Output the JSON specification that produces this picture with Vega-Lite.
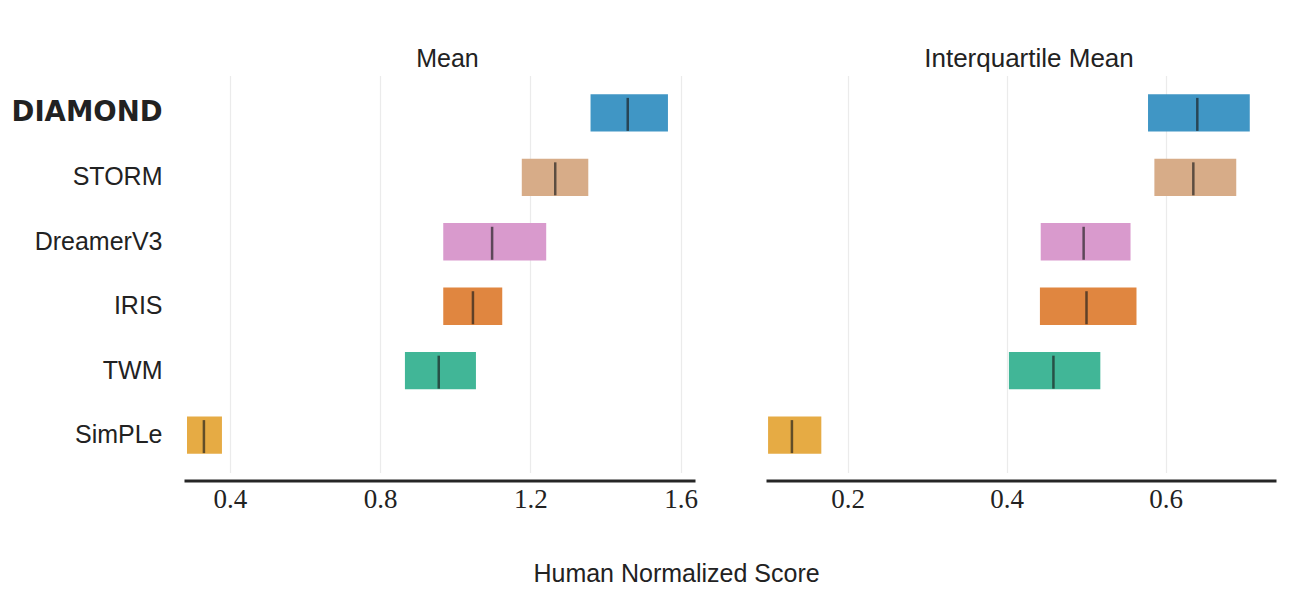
{
  "$schema": "https://vega.github.io/schema/vega-lite/v6.json",
  "background": "white",
  "padding": {"left": 11, "top": 45.5, "right": 20, "bottom": 5},
  "autosize": {"type": "pad"},
  "datasets": {
    "scores": [
      {"algo": "DIAMOND", "metric": "Mean", "lo": 1.360, "hi": 1.566, "med": 1.459},
      {"algo": "STORM", "metric": "Mean", "lo": 1.177, "hi": 1.354, "med": 1.266},
      {"algo": "DreamerV3", "metric": "Mean", "lo": 0.968, "hi": 1.242, "med": 1.098},
      {"algo": "IRIS", "metric": "Mean", "lo": 0.968, "hi": 1.125, "med": 1.047},
      {"algo": "TWM", "metric": "Mean", "lo": 0.866, "hi": 1.055, "med": 0.956},
      {"algo": "SimPLe", "metric": "Mean", "lo": 0.286, "hi": 0.379, "med": 0.331},
      {"algo": "DIAMOND", "metric": "IQM", "lo": 0.578, "hi": 0.706, "med": 0.640},
      {"algo": "STORM", "metric": "IQM", "lo": 0.586, "hi": 0.689, "med": 0.635},
      {"algo": "DreamerV3", "metric": "IQM", "lo": 0.443, "hi": 0.556, "med": 0.497},
      {"algo": "IRIS", "metric": "IQM", "lo": 0.442, "hi": 0.5635, "med": 0.5006},
      {"algo": "TWM", "metric": "IQM", "lo": 0.403, "hi": 0.518, "med": 0.459},
      {"algo": "SimPLe", "metric": "IQM", "lo": 0.100, "hi": 0.167, "med": 0.130}
    ]
  },
  "data": {"name": "scores"},
  "title": {
    "text": "Human Normalized Score",
    "orient": "bottom",
    "anchor": "middle",
    "font": "Liberation Sans",
    "fontSize": 25,
    "fontWeight": "normal",
    "color": "#222222",
    "offset": 49.5,
    "dx": 33
  },
  "spacing": 71,
  "bounds": "flush",
  "hconcat": [
    {
      "width": 511,
      "height": 397,
      "title": {"text": "Mean", "dx": 8},
      "transform": [{"filter": "datum.metric == 'Mean'"}],
      "encoding": {
        "y": {
          "field": "algo",
          "type": "nominal",
          "sort": ["DIAMOND", "STORM", "DreamerV3", "IRIS", "TWM", "SimPLe"],
          "scale": {"paddingInner": 0.42, "paddingOuter": 0.29},
          "axis": {
            "title": null,
            "domain": false,
            "ticks": false,
            "grid": false,
            "labelPadding": 22,
            "labelFont": {"expr": "datum.value == 'DIAMOND' ? 'DejaVu Sans' : 'Liberation Sans'"},
            "labelFontWeight": {"expr": "datum.value == 'DIAMOND' ? 'bold' : 'normal'"},
            "labelFontSize": {"expr": "datum.value == 'DIAMOND' ? 27.5 : 25"},
            "labelColor": "#222222"
          }
        }
      },
      "layer": [
        {
          "mark": {"type": "bar", "opacity": 1},
          "encoding": {
            "x": {
              "field": "lo",
              "type": "quantitative",
              "scale": {"domain": [0.278, 1.638], "nice": false, "zero": false},
              "axis": {
                "title": null,
                "values": [0.4, 0.8, 1.2, 1.6],
                "format": ".1f",
                "grid": true,
                "gridColor": "#ebebeb",
                "gridWidth": 1.2,
                "ticks": false,
                "domain": true,
                "domainColor": "#262626",
                "domainWidth": 2.8,
                "offset": 8,
                "labelFont": "Liberation Serif",
                "labelFontSize": 27,
                "labelColor": "#222222",
                "labelPadding": 6
              }
            },
            "x2": {"field": "hi"},
            "color": {
              "field": "algo",
              "type": "nominal",
              "scale": {
                "domain": ["DIAMOND", "STORM", "DreamerV3", "IRIS", "TWM", "SimPLe"],
                "range": ["#4096c5", "#d7ac88", "#d99acd", "#e08640", "#41b697", "#e6ab44"]
              },
              "legend": null
            }
          }
        },
        {
          "mark": {"type": "tick", "thickness": 2.5, "size": 33, "color": "#1a1a1a", "opacity": 0.65, "yOffset": 1.5},
          "encoding": {
            "x": {"field": "med", "type": "quantitative"}
          }
        }
      ]
    },
    {
      "width": 510,
      "height": 397,
      "title": {"text": "Interquartile Mean", "dx": 8, "fontSize": 26},
      "transform": [{"filter": "datum.metric == 'IQM'"}],
      "encoding": {
        "y": {
          "field": "algo",
          "type": "nominal",
          "sort": ["DIAMOND", "STORM", "DreamerV3", "IRIS", "TWM", "SimPLe"],
          "scale": {"paddingInner": 0.42, "paddingOuter": 0.29},
          "axis": null
        }
      },
      "layer": [
        {
          "mark": {"type": "bar", "opacity": 1},
          "encoding": {
            "x": {
              "field": "lo",
              "type": "quantitative",
              "scale": {"domain": [0.0974, 0.739], "nice": false, "zero": false},
              "axis": {
                "title": null,
                "values": [0.2, 0.4, 0.6],
                "format": ".1f",
                "grid": true,
                "gridColor": "#ebebeb",
                "gridWidth": 1.2,
                "ticks": false,
                "domain": true,
                "domainColor": "#262626",
                "domainWidth": 2.8,
                "offset": 8,
                "labelFont": "Liberation Serif",
                "labelFontSize": 27,
                "labelColor": "#222222",
                "labelPadding": 6
              }
            },
            "x2": {"field": "hi"},
            "color": {
              "field": "algo",
              "type": "nominal",
              "scale": {
                "domain": ["DIAMOND", "STORM", "DreamerV3", "IRIS", "TWM", "SimPLe"],
                "range": ["#4096c5", "#d7ac88", "#d99acd", "#e08640", "#41b697", "#e6ab44"]
              },
              "legend": null
            }
          }
        },
        {
          "mark": {"type": "tick", "thickness": 2.5, "size": 33, "color": "#1a1a1a", "opacity": 0.65, "yOffset": 1.5},
          "encoding": {
            "x": {"field": "med", "type": "quantitative"}
          }
        }
      ]
    }
  ],
  "resolve": {"scale": {"x": "independent"}},
  "config": {
    "view": {"stroke": null},
    "title": {
      "font": "Liberation Sans",
      "fontSize": 25,
      "fontWeight": "normal",
      "color": "#222222",
      "offset": 4,
      "anchor": "middle"
    }
  }
}
